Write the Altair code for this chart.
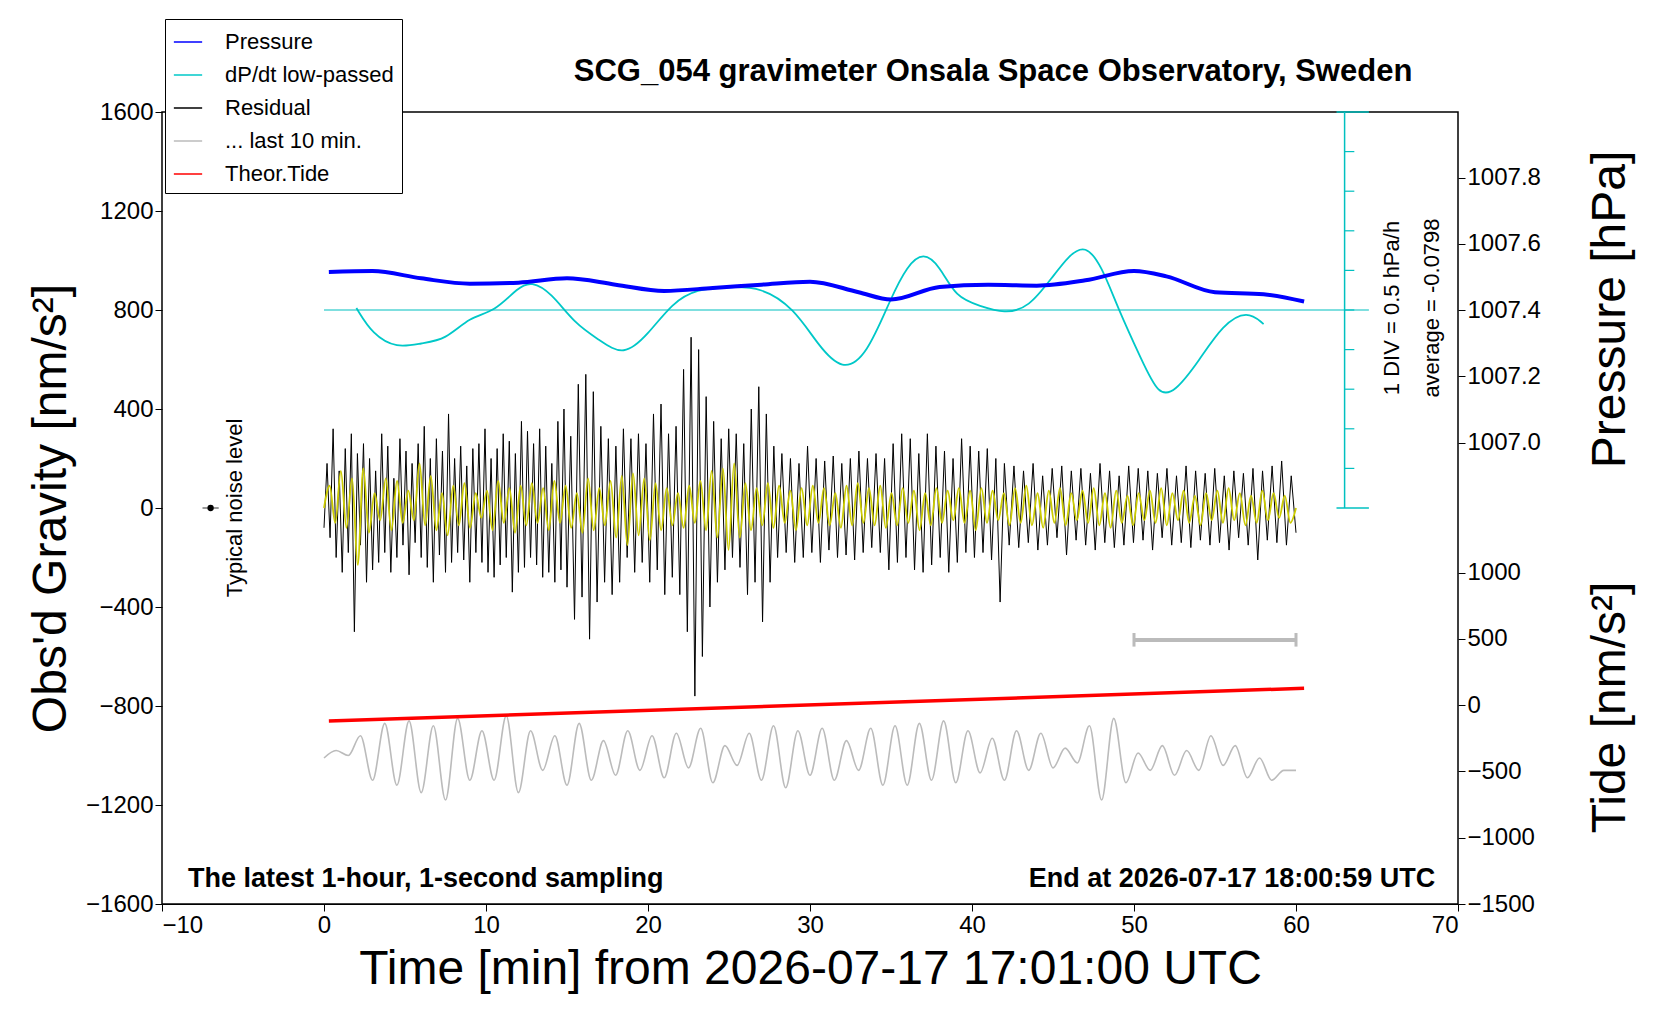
import altair as alt
import numpy as np
import pandas as pd

FONT = "Liberation Sans"

# residual gravity [nm/s^2], alternating peaks, in four time spans
RES_A = [  # 0 .. 15 min
    -80, 180, -120, 320, -200, 150, -260, 240, -180, 300, -500, 220, -150, 260, -300, 200,
    -250, 150, -220, 300, -180, 250, -260, 120, -200, 280, -150, 230, -270, 180, -140, 260,
    -200, 330, -240, 200, -300, 280, -190, 230, -260, 380, -220, 200, -180, 250, -210, 170,
    -300, 240, -180, 260, -220, 320, -260, 200, -280, 240, -230, 300, -200, 270, -340, 220,
    -260, 350, -240, 310, -200, 260, -230, 320, -280, 250, -260, 180, -300, 350, -250, 400,
]
RES_B = [  # 15 .. 28 min
    -320, 290, -450, 500, -360, 540, -530, 470, -380, 330, -300, 280, -350, 250, -300, 320,
    -200, 280, -260, 300, -220, 260, -300, 380, -250, 420, -350, 300, -280, 330, -350, 560,
    -500, 690, -760, 640, -600, 450, -400, 350, -300, 280, -250, 320, -200, 300, -240, 260,
    -350, 400, -300, 490, -460, 380, -300, 250,
]
RES_C = [  # 28 .. 42 min
    -200, 220, -180, 200, -220, 180, -200, 250,
    -180, 200, -220, 190, -170, 210, -200, 180, -190, 200, -210, 230, -180, 200, -160, 220,
    -180, 200, -250, 260, -220, 300, -200, 280, -250, 220, -260, 300, -230, 250, -200, 230,
    -260, 200, -220, 280, -180, 250, -200, 230, -180, 240, -210, 200, -380,
]
RES_D = [  # 42 .. 60 min
    180, -150, 170,
    -160, 150, -140, 180, -170, 130, -150, 160, -120, 170, -190, 150, -130, 160, -150, 140,
    -170, 180, -140, 150, -160, 130, -150, 170, -140, 160, -130, 150, -170, 140, -120, 160,
    -150, 130, -140, 170, -160, 150, -130, 140, -150, 160, -140, 130, -170, 150, -120, 140,
    -150, 160, -210, 150, -130, 170, -140, 190, -150, 130, -100,
]
RES_SPANS = [(0, 15, RES_A), (15, 28, RES_B), (28, 42, RES_C), (42, 60, RES_D)]

# short-period filtered residual (yellow)
FILTERED = [
    0, 90, -60, 150, -80, 120, -230, 160, -100, 60, -50, 120, -90, 110, -60, 70, -50, 180,
    -70, 130, -90, 60, -110, 90, -70, 100, -80, 60, -40, 70, -90, 110, -60, 80, -100, 90,
    -70, 100, -60, 80, -90, 110, -60, 90, -80, 60, -100, 120, -90, 80, -70, 110, -120, 130,
    -150, 140, -110, 120, -130, 100, -90, 80, -70, 60, -80, 90, -60, 110, -90, 150, -120,
    160, -170, 180, -120, 100, -90, 80, -70, 100, -80, 90, -60, 70, -90, 80, -70, 90, -60,
    80, -70, 60, -80, 90, -70, 100, -60, 80, -70, 90, -80, 60, -70, 80, -60, 70, -90, 60,
    -70, 80, -60, 70, -50, 80, -60, 70, -90, 80, -60, 70, -50, 60, -70, 80, -60, 90, -70,
    60, -80, 70, -60, 80, -70, 60, -50, 70, -60, 80, -70, 60, -80, 70, -60, 50, -70, 60,
    -50, 70, -60, 80, -70, 60, -50, 70, -60, 50, -70, 60, -50, 70, -60, 80, -50, 60, -70,
    50, -60, 70, -50, 60, -40, 50, -60, 0,
]

# last 10 min of residual, stretched over 0..60 (grey)
LAST10 = [
    -1010, -980, -1000, -920, -1100, -870, -1120, -860, -1150, -880, -1180, -850, -1100,
    -900, -1100, -840, -1150, -900, -1060, -920, -1120, -870, -1100, -940, -1080, -900,
    -1060, -920, -1090, -910, -1050, -890, -1110, -960, -1040, -910, -1100, -880, -1130,
    -900, -1080, -890, -1100, -940, -1060, -890, -1120, -880, -1120, -870, -1100, -860,
    -1110, -900, -1070, -930, -1100, -900, -1060, -910, -1050, -970, -1030, -880, -1180,
    -850, -1110, -990, -1060, -960, -1080, -980, -1060, -920, -1040, -960, -1090, -1010,
    -1100, -1060, -1060,
]

PRESS_T = [0.3, 3, 6, 9, 12, 15, 18, 21, 24, 27, 30, 33, 35, 38, 41, 44, 47, 50, 52, 55, 58, 60.5]
PRESSURE = [1007.515, 1007.518, 1007.496, 1007.48, 1007.483, 1007.496, 1007.477, 1007.458,
            1007.467, 1007.477, 1007.486, 1007.454, 1007.432, 1007.470, 1007.477, 1007.474,
            1007.49, 1007.518, 1007.502, 1007.454, 1007.448, 1007.426]

DPDT_T = [2, 3, 4.5, 6, 7.5, 9, 10.5, 12, 12.8, 14, 15.5, 17, 18.5, 20, 21.5, 23, 25, 27,
          29, 30.5, 32, 33.5, 35, 36, 37, 38, 39, 40.5, 42, 43.5, 45, 46, 47, 48, 49, 50.5,
          51.5, 52.5, 54, 55.5, 57, 58]
DPDT = [808, 701, 645, 666, 679, 773, 791, 893, 915, 872, 743, 679, 611, 701, 829, 885,
        893, 893, 808, 658, 551, 615, 850, 979, 1035, 979, 850, 816, 786, 808, 936, 1022,
        1065, 979, 808, 594, 456, 465, 594, 743, 799, 743]

TIDE_T = [0.3, 60.5]
TIDE = [-120, 128]

DIV_TICKS = [160, 320, 480, 640, 800, 960, 1120, 1280, 1440]
SERIES = ["Pressure", "dP/dt low-passed", "Residual", "... last 10 min.", "Theor.Tide"]
COLORS = ["#0000ff", "#00c8c8", "#000000", "#bbbbbb", "#ff0000"]

LBL = 24
TTL = 48
XS = alt.Scale(domain=[-10, 70], nice=False)
XAX = alt.Axis(values=list(range(-10, 71, 10)), title="Time [min] from 2026-07-17 17:01:00 UTC",
               titleFontSize=TTL, labelFontSize=LBL, titleFontWeight="normal", grid=False,
               tickSize=7, domainColor="black", tickColor="black", labelColor="black",
               titleColor="black", titlePadding=8, format="d")
GS = alt.Scale(domain=[-1600, 1600], nice=False)
COLOR_SCALE = alt.Scale(domain=SERIES, range=COLORS)


def gx(field="t"):
    return alt.X(f"{field}:Q", scale=XS, axis=XAX)


def gy(field="v", axis=None):
    return alt.Y(f"{field}:Q", scale=GS, axis=axis)


def legend_color():
    return alt.Color(
        "s:N", scale=COLOR_SCALE,
        legend=alt.Legend(title=None, orient="none", legendX=3, legendY=-93,
                          symbolType="stroke", symbolStrokeWidth=1.5, symbolSize=800,
                          labelFontSize=22, labelFont=FONT, fillColor="white", labelLimit=400,
                          strokeColor="black", padding=8, rowPadding=7, labelOffset=22),
    )


res = pd.concat([
    pd.DataFrame({"t": np.linspace(a, b, len(vals), endpoint=(b == 60)), "v": vals})
    for a, b, vals in RES_SPANS
]).assign(s="Residual")
fil = pd.DataFrame({"t": np.linspace(0, 60, len(FILTERED)), "v": FILTERED})
l10 = pd.DataFrame({"t": np.linspace(0, 60, len(LAST10)), "v": LAST10, "s": "... last 10 min."})
prs = pd.DataFrame({"t": PRESS_T, "v": PRESSURE, "s": "Pressure"})
dpd = pd.DataFrame({"t": DPDT_T, "v": DPDT, "s": "dP/dt low-passed"})
tid = pd.DataFrame({"t": TIDE_T, "v": TIDE, "s": "Theor.Tide"})
divt = pd.DataFrame({"v": DIV_TICKS})

left_axis = alt.Axis(values=list(range(-1600, 1601, 400)), title="Obs'd Gravity [nm/s²]",
                     titleFontSize=TTL, titleFontWeight="normal", labelFontSize=LBL, grid=False,
                     tickSize=7, domain=False, tickColor="black", labelColor="black",
                     titleColor="black", titlePadding=10, format="d")

residual = alt.Chart(res).mark_line(strokeWidth=1).encode(
    x=gx(), y=gy(axis=left_axis), color=legend_color())
filtered = alt.Chart(fil).mark_line(strokeWidth=1.8, color="#cccc00", interpolate="monotone").encode(
    x=gx(), y=gy())
last10 = alt.Chart(l10).mark_line(strokeWidth=1.6, interpolate="monotone").encode(
    x=gx(), y=gy(), color=legend_color())
dpdt = alt.Chart(dpd).mark_line(strokeWidth=1.8, interpolate="basis").encode(
    x=gx(), y=gy(), color=legend_color())

press_axis = alt.Axis(orient="right", values=[1007.0, 1007.2, 1007.4, 1007.6, 1007.8], format=".1f",
                      title="Pressure [hPa]", titleFontSize=TTL, titleFontWeight="normal",
                      labelFontSize=LBL, grid=False, domain=False, tickSize=7, tickColor="black",
                      labelColor="black", titleColor="black", titleAngle=270, titleY=197,
                      titleX=152, titleBaseline="middle")
pressure = alt.Chart(prs).mark_line(strokeWidth=4, interpolate="monotone").encode(
    x=gx(), y=alt.Y("v:Q", scale=alt.Scale(domain=[1005.608, 1007.998], nice=False, zero=False),
                    axis=press_axis),
    color=legend_color())

tide_axis = alt.Axis(orient="right", values=[1000, 500, 0, -500, -1000, -1500], format="d",
                     title="Tide [nm/s²]", titleFontSize=TTL, titleFontWeight="normal",
                     labelFontSize=LBL, grid=False, domain=False, tickSize=7, tickColor="black",
                     labelColor="black", titleColor="black", titleAngle=270, titleY=595,
                     titleX=152, titleBaseline="middle")
tide = alt.Chart(tid).mark_line(strokeWidth=3.5).encode(
    x=gx(), y=alt.Y("v:Q", scale=alt.Scale(domain=[-1500, 4476], nice=False), axis=tide_axis),
    color=legend_color())

cy = "#00c0c0"
baseline = alt.Chart(pd.DataFrame({"t": [0], "t2": [64.5], "v": [800]})).mark_rule(
    color=cy, strokeWidth=1.2).encode(x=gx(), x2="t2", y=gy())
div_axis = alt.Chart(pd.DataFrame({"t": [63], "v": [0], "v2": [1600]})).mark_rule(
    color=cy, strokeWidth=1.5).encode(x=gx(), y=gy(), y2="v2")
div_ticks = alt.Chart(divt.assign(t=63, t2=63.6)).mark_rule(color=cy, strokeWidth=1.2).encode(
    x=gx(), x2="t2", y=gy())
div_ends = alt.Chart(pd.DataFrame({"v": [0, 1600], "t": [62.5, 62.5], "t2": [64.5, 64.5]})).mark_rule(
    color=cy, strokeWidth=1.5).encode(x=gx(), x2="t2", y=gy())

noise_bar = alt.Chart(pd.DataFrame({"t": [-7.5], "t2": [-6.5], "v": [0]})).mark_rule(
    color="#999999", strokeWidth=2).encode(x=gx(), x2="t2", y=gy())
noise_dot = alt.Chart(pd.DataFrame({"t": [-7], "v": [0]})).mark_point(
    filled=True, color="black", size=40, opacity=1).encode(x=gx(), y=gy())
scale_bar = alt.Chart(pd.DataFrame({"t": [50], "t2": [60], "v": [-533]})).mark_rule(
    color="#bbbbbb", strokeWidth=4).encode(x=gx(), x2="t2", y=gy())
scale_caps = alt.Chart(pd.DataFrame({"t": [50, 60], "v": [-505, -505], "v2": [-560, -560]})).mark_rule(
    color="#bbbbbb", strokeWidth=3).encode(x=gx(), y=gy(), y2="v2")


def label(text, t, v, angle=0, align="center", bold=False, size=22):
    return alt.Chart(pd.DataFrame({"t": [t], "v": [v], "txt": [text]})).mark_text(
        angle=angle, align=align, baseline="middle", font=FONT, fontSize=size, clip=False,
        fontWeight="bold" if bold else "normal", color="black").encode(
        x=gx(), y=gy(), text="txt:N")


texts = [
    label("Typical noise level", -5.5, 0, angle=270),
    label("1 DIV = 0.5 hPa/h", 65.9, 808, angle=270),
    label("average = -0.0798", 68.4, 808, angle=270),
    label("The latest 1-hour, 1-second sampling", -8.4, -1500, align="left", bold=True, size=27),
    label("End at 2026-07-17 18:00:59 UTC", 68.6, -1500, align="right", bold=True, size=27),
    label("SCG_054 gravimeter Onsala Space Observatory, Sweden", 41.3, 1763, bold=True, size=31),
]

chart = alt.layer(
    residual, filtered, last10, dpdt, baseline, div_axis, div_ticks, div_ends,
    noise_bar, noise_dot, scale_bar, scale_caps, *texts, pressure, tide,
).resolve_scale(y="independent").properties(
    width=1296, height=792,
    padding={"left": 19, "top": 10, "right": 5, "bottom": 5},
).configure(
    font=FONT, view=alt.ViewConfig(stroke="black", strokeWidth=1.5)
)

chart.save("out.html", embed_options={"renderer": "svg", "actions": False})
